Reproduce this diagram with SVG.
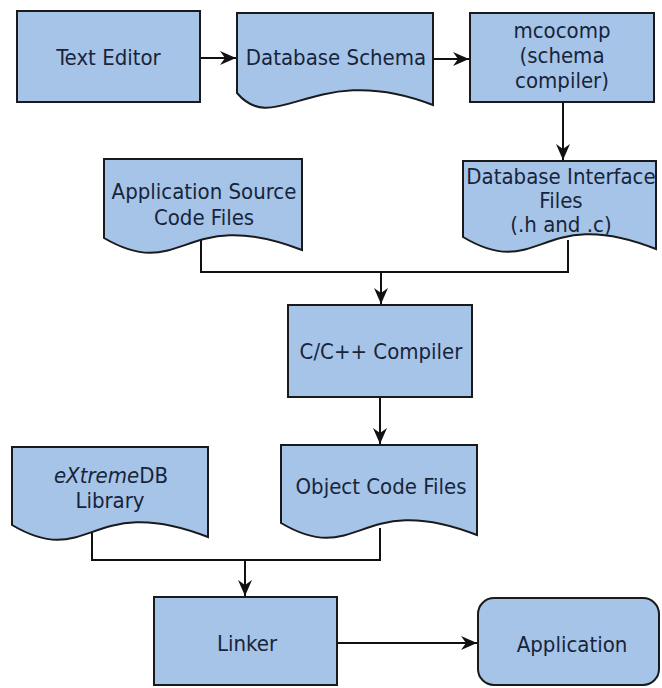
<svg xmlns="http://www.w3.org/2000/svg" width="662" height="688" viewBox="0 0 662 688">
<style>
.box{fill:#a6c4e8;stroke:#1a1a1a;stroke-width:2}
.lbl{font-family:"DejaVu Sans Condensed","DejaVu Sans",Verdana,sans-serif;font-stretch:condensed;font-size:22px;fill:#18243a;text-anchor:middle}
.con{fill:none;stroke:#111;stroke-width:2}
</style>
<defs>
<marker id="arr" markerWidth="17" markerHeight="14" refX="16" refY="7" orient="auto" markerUnits="userSpaceOnUse">
<path d="M0,0 L16,7 L0,14 L5,7 z" fill="#111"/>
</marker>
</defs>
<rect width="662" height="688" fill="#fff"/>
<g id="connectors">
<path class="con" d="M200,58 H236" marker-end="url(#arr)"/>
<path class="con" d="M433,59 H469" marker-end="url(#arr)"/>
<path class="con" d="M563,102 V160" marker-end="url(#arr)"/>
<path class="con" d="M201,240 V272 H568 V240"/>
<path class="con" d="M381,272 V304" marker-end="url(#arr)"/>
<path class="con" d="M380,397 V444" marker-end="url(#arr)"/>
<path class="con" d="M92,528 V560 H380 V528"/>
<path class="con" d="M245,560 V596" marker-end="url(#arr)"/>
<path class="con" d="M337,643 H477" marker-end="url(#arr)"/>
</g>
<g id="text-editor">
<rect class="box" x="17" y="11" width="183" height="91"/>
<text class="lbl" x="108.5" y="65">Text Editor</text>
</g>
<g id="database-schema">
<path class="box" d="M237,13 H433 V105 C315,59 276,139 237,93 Z"/>
<text class="lbl" x="336" y="65">Database Schema</text>
</g>
<g id="mcocomp">
<rect class="box" x="470" y="13" width="184" height="89"/>
<text class="lbl" x="562" y="38">mcocomp</text>
<text class="lbl" x="562" y="63">(schema</text>
<text class="lbl" x="562" y="88">compiler)</text>
</g>
<g id="application-source">
<path class="box" d="M104,159 H302 V250 C183,204 183,284 104,238 Z"/>
<text class="lbl" x="204" y="199">Application Source</text>
<text class="lbl" x="204" y="225">Code Files</text>
</g>
<g id="database-interface">
<path class="box" d="M463,161 H656 V249 C540,203 540,283 463,237 Z"/>
<text class="lbl" x="561" y="184">Database Interface</text>
<text class="lbl" x="561" y="208">Files</text>
<text class="lbl" x="561" y="232">(.h and .c)</text>
</g>
<g id="compiler">
<rect class="box" x="288" y="305" width="184" height="92"/>
<text class="lbl" x="381" y="359">C/C++ Compiler</text>
</g>
<g id="extremedb-library">
<path class="box" d="M12,447 H208 V537 C90,491 90,571 12,525 Z"/>
<text class="lbl" x="111" y="483"><tspan font-style="italic">eXtreme</tspan>DB</text>
<text class="lbl" x="110" y="508">Library</text>
</g>
<g id="object-code">
<path class="box" d="M281,445 H477 V535 C359,489 359,569 281,523 Z"/>
<text class="lbl" x="381" y="494">Object Code Files</text>
</g>
<g id="linker">
<rect class="box" x="154" y="597" width="183" height="88"/>
<text class="lbl" x="247" y="651">Linker</text>
</g>
<g id="application">
<rect class="box" x="478" y="598" width="181" height="87" rx="16"/>
<text class="lbl" x="572" y="652">Application</text>
</g>
</svg>
